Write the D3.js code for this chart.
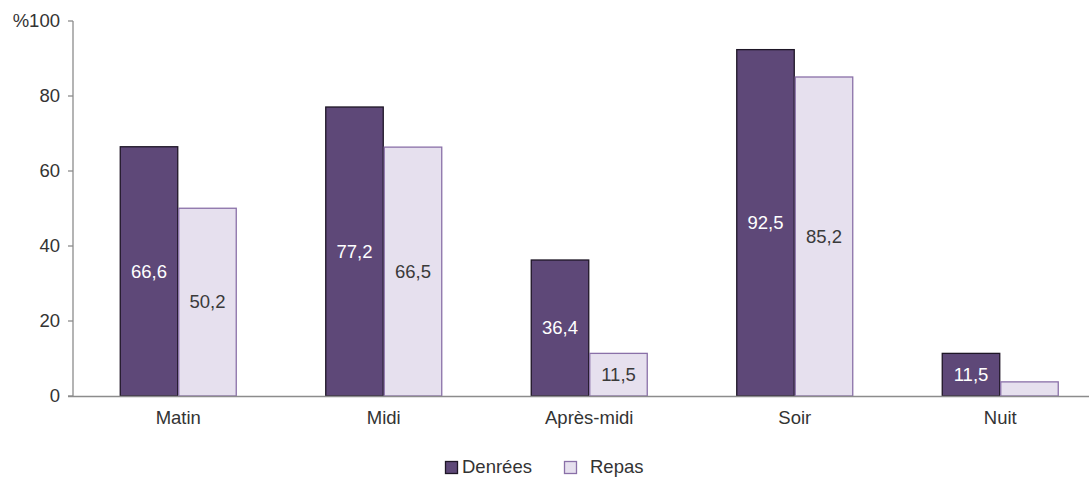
<!DOCTYPE html>
<html><head><meta charset="utf-8">
<script src="https://cdn.jsdelivr.net/npm/d3@7"></script>
<style>body{margin:0;background:#fff}svg{display:block;font-family:"Liberation Sans",Arial,sans-serif}</style>
</head><body><svg id="c" width="1089" height="479"></svg>
<script>
const categories = ["Matin","Midi","Après-midi","Soir","Nuit"];
const seriesNames = ["Denrées","Repas"];
const denrees = [66.6,77.2,36.4,92.5,11.5];
const repas = [50.2,66.5,11.5,85.2,3.9];
const repasLabels = ["50,2","66,5","11,5","85,2",""];
const denreesLabels = ["66,6","77,2","36,4","92,5","11,5"];
const yTicks = [0,20,40,60,80,100];
const yTickLabels = ["0","20","40","60","80","%100"];

const svg = d3.select("#c");
const FS = 18.5;
const x0 = 75.5, step = 205.5;
const x = d3.scaleBand().domain(categories).range([x0, x0 + step*5]).paddingInner(0).paddingOuter(0);
const bw = 58.5;
const xs = d3.scaleBand().domain(seriesNames).range([0, bw*2]);
const y = d3.scaleLinear().domain([0,100]).range([396,21]);
const colors = {"Denrées":"#5e4878","Repas":"#e6e0ee"};
const strokes = {"Denrées":"#1e1626","Repas":"#8a70a8"};
const axisColor = "#8c8c8c";

const data = [];
categories.forEach((c,i)=>{
  data.push({c, s:"Denrées", v:denrees[i], lab:denreesLabels[i]});
  data.push({c, s:"Repas", v:repas[i], lab:repasLabels[i]});
});
const gx = c => x(c) + x.bandwidth()/2 - bw;
svg.append("g").selectAll("rect").data(data).join("rect")
  .attr("x", d=>gx(d.c)+xs(d.s)+0.5)
  .attr("y", d=>y(d.v)+0.5)
  .attr("width", bw-1)
  .attr("height", d=>y(0)-y(d.v)-0.5)
  .attr("fill", d=>colors[d.s])
  .attr("stroke", d=>strokes[d.s])
  .attr("stroke-width", 1.3);

svg.append("g").selectAll("text").data(data.filter(d=>d.lab)).join("text")
  .attr("x", d=>gx(d.c)+xs(d.s)+bw/2)
  .attr("y", d=>(y(d.v)+y(0))/2)
  .attr("dy","0.35em")
  .attr("text-anchor","middle")
  .attr("font-size",FS)
  .attr("fill", d=>d.s==="Denrées"?"#ffffff":"#3a3a3a")
  .text(d=>d.lab);

const ya = svg.append("g").attr("transform","translate(73,0)");
ya.append("line").attr("x1",0).attr("x2",0).attr("y1",y(100)).attr("y2",y(0)).attr("stroke",axisColor).attr("stroke-width",1.3);
ya.selectAll("line.t").data(yTicks).join("line").attr("class","t")
  .attr("x1",-5).attr("x2",0).attr("y1",d=>y(d)).attr("y2",d=>y(d)).attr("stroke",axisColor).attr("stroke-width",1.3);
ya.selectAll("text").data(yTicks).join("text")
  .attr("x",-13).attr("y",d=>y(d)).attr("dy","0.35em").attr("text-anchor","end")
  .attr("font-size",FS).attr("fill","#333").text((d,i)=>yTickLabels[i]);

svg.append("line").attr("x1",68).attr("x2",1089).attr("y1",396.5).attr("y2",396.5).attr("stroke",axisColor).attr("stroke-width",1.5);
svg.append("g").selectAll("text").data(categories).join("text")
  .attr("x", c=>x(c)+x.bandwidth()/2).attr("y",418).attr("dy","0.35em")
  .attr("text-anchor","middle").attr("font-size",FS).attr("fill","#333").text(c=>c);

const leg = [{s:"Denrées",sx:445,tx:462},{s:"Repas",sx:564,tx:590}];
const lg = svg.append("g");
lg.selectAll("rect").data(leg).join("rect")
  .attr("x",d=>d.sx+0.5).attr("y",461.5).attr("width",12).attr("height",12)
  .attr("fill",d=>colors[d.s]).attr("stroke",d=>strokes[d.s]).attr("stroke-width",1.3);
lg.selectAll("text").data(leg).join("text")
  .attr("x",d=>d.tx).attr("y",467).attr("dy","0.35em").attr("font-size",FS).attr("fill","#333").text(d=>d.s);
</script></body></html>
